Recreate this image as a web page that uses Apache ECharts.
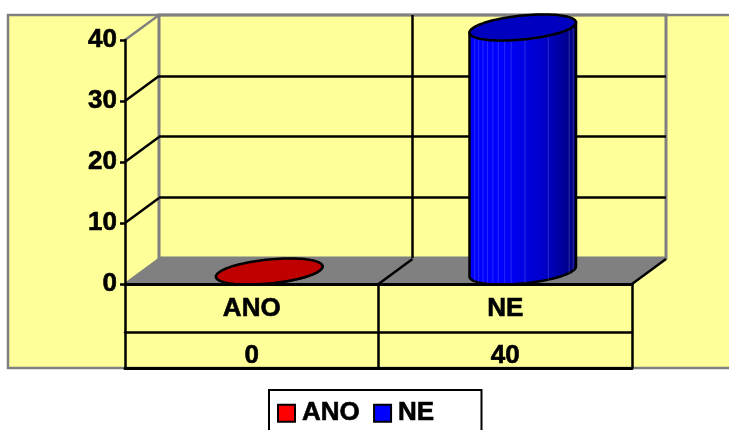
<!DOCTYPE html>
<html>
<head>
<meta charset="utf-8">
<style>html,body{margin:0;padding:0;background:#fff}#chart{width:729px;height:430px}</style>
<script src="https://cdn.jsdelivr.net/npm/echarts@6/dist/echarts.min.js"></script>
</head>
<body>
<div id="chart"></div>
<script>
// Answers per option
const categories = ['ANO', 'NE'];
const counts = [0, 40];
const wallTicks = [0, 10, 20, 30, 40];

const DEPTH_X = 34, DEPTH_Y = 25;
const FONT = 'Liberation Sans';
const TILT = 0.1, RX = 53.5, RY = 12;
const BAND_FACETS = [0.03, 0.07, 0.27, 0.49, 0.62, 0.68, 0.74, 0.79, 0.84, 0.88, 0.92, 0.955];

const label = {
  fontFamily: FONT, fontWeight: 'bold', fontSize: 26, color: '#000',
  textBorderColor: '#000', textBorderWidth: 0.6
};
const blackLine = { color: '#000', width: 2.5 };

// A point on a cylinder's tilted end ellipse, t measured from its right end
function ellipsePoint(cx, cy, t) {
  return [
    cx + RX * Math.cos(t) * Math.cos(TILT) + RY * Math.sin(t) * Math.sin(TILT),
    cy - RX * Math.cos(t) * Math.sin(TILT) + RY * Math.sin(t) * Math.cos(TILT)
  ];
}

function cylinderItem(base, top) {
  return function (params, api) {
    const v = api.coord([api.value(0), api.value(1)]);
    const z = api.coord([api.value(0), 0]);
    const cx = v[0] + DEPTH_X / 2 + 0.5;
    const topY = v[1] - DEPTH_Y / 2;
    const botY = z[1] - DEPTH_Y / 2;
    const t0 = Math.atan2(RY * Math.sin(TILT), RX * Math.cos(TILT));
    const outline = [], lid = [];
    for (let i = 0; i <= 48; i++) {
      outline.push(ellipsePoint(cx, botY, t0 + Math.PI * i / 48));
    }
    for (let i = 0; i < 96; i++) {
      lid.push(ellipsePoint(cx, topY, t0 + Math.PI * i / 48));
    }
    const body = [ellipsePoint(cx, topY, t0)].concat(outline, [ellipsePoint(cx, topY, t0 + Math.PI)]);
    const children = [{
      type: 'polygon',
      shape: { points: body },
      style: {
        fill: new echarts.graphic.LinearGradient(0, 0, 1, 0, [
          { offset: 0, color: base[0] },
          { offset: 0.3, color: base[0] },
          { offset: 0.7, color: base[1] },
          { offset: 1, color: base[2] }
        ]),
        stroke: '#000', lineWidth: 2.5
      }
    }];
    if (api.value(1) > 0) {
      BAND_FACETS.forEach(function (f) {
        const t = Math.acos(1 - 2 * f);
        const a = ellipsePoint(cx, topY, t), b = ellipsePoint(cx, botY, t);
        children.push({
          type: 'line',
          shape: { x1: a[0], y1: a[1], x2: b[0], y2: b[1] },
          style: { stroke: 'rgba(150,150,255,0.28)', lineWidth: 1 }
        });
      });
    }
    children.push({
      type: 'polygon',
      shape: { points: lid },
      style: { fill: top, stroke: '#000', lineWidth: 2.5 }
    });
    return { type: 'group', children: children };
  };
}

function floorItem(params) {
  const r = params.coordSys;
  const y = r.y + r.height, x0 = r.x, x1 = r.x + r.width;
  const children = [{
    type: 'polygon',
    shape: { points: [[x0, y], [x1, y], [x1 + DEPTH_X, y - DEPTH_Y], [x0 + DEPTH_X, y - DEPTH_Y]] },
    style: { fill: '#808080' }
  }];
  [x0 + r.width / 2, x1].forEach(function (x) {
    children.push({
      type: 'line',
      shape: { x1: x, y1: y, x2: x + DEPTH_X, y2: y - DEPTH_Y },
      style: { stroke: '#000', lineWidth: 2.5 }
    });
  });
  return { type: 'group', children: children };
}

function sideWallItem(params, api) {
  const x = params.coordSys.x;
  const tick = api.value(0);
  const y = api.coord([0, tick])[1];
  const edge = tick === 0 || tick === 40;
  return {
    type: 'line',
    shape: { x1: x, y1: y, x2: x + DEPTH_X, y2: y - DEPTH_Y },
    style: { stroke: edge ? '#808080' : '#000', lineWidth: 2.5 }
  };
}

const chart = echarts.init(document.getElementById('chart'));
chart.setOption({
  animation: false,
  backgroundColor: '#fff',
  graphic: [{
    type: 'rect', z: -1, silent: true,
    shape: { x: 8, y: 15, width: 740, height: 353 },
    style: { fill: '#FFFF99', stroke: '#808080', lineWidth: 2.5 }
  }],
  legend: {
    left: 269, top: 390,
    padding: [10, 47, 8, 8],
    itemWidth: 17, itemHeight: 17, itemGap: 13,
    backgroundColor: '#fff', borderColor: '#000', borderWidth: 2, borderRadius: 0,
    icon: 'rect',
    itemStyle: { borderColor: '#000', borderWidth: 2 },
    textStyle: Object.assign({}, label, { padding: [2, 0, 0, 2] }),
    data: categories
  },
  grid: [
    { left: 125, top: 40, width: 507, height: 244 },
    { left: 159, top: 15, width: 507, height: 243, show: true, borderColor: '#808080', borderWidth: 3 }
  ],
  xAxis: [
    {
      gridIndex: 0, type: 'category', data: categories, z: 3,
      axisLine: { lineStyle: { color: '#000', width: 3 } },
      axisTick: { show: true, length: 84, lineStyle: blackLine },
      axisLabel: Object.assign({ margin: 12 }, label)
    },
    {
      gridIndex: 0, type: 'category', data: counts.map(String), position: 'bottom', offset: 48, z: 3,
      axisLine: { lineStyle: blackLine },
      axisTick: { show: false },
      axisLabel: Object.assign({ margin: 11 }, label)
    },
    {
      gridIndex: 0, type: 'category', data: categories, position: 'bottom', offset: 84, z: 3,
      axisLine: { lineStyle: { color: '#000', width: 3 } },
      axisTick: { show: false },
      axisLabel: { show: false }
    },
    {
      gridIndex: 1, type: 'category', data: categories,
      axisLine: { show: false }, axisTick: { show: false }, axisLabel: { show: false },
      splitLine: { show: true, showMinLine: false, showMaxLine: false, lineStyle: blackLine }
    }
  ],
  yAxis: [
    {
      gridIndex: 0, type: 'value', min: 0, max: 40, interval: 10, z: 3,
      axisLine: { show: true, lineStyle: blackLine },
      axisTick: { show: true, length: 5, lineStyle: blackLine },
      axisLabel: Object.assign({ margin: 8, padding: [4, 0, 0, 0] }, label),
      splitLine: { show: false }
    },
    {
      gridIndex: 1, type: 'value', min: 0, max: 40, interval: 10,
      axisLine: { show: false }, axisTick: { show: false }, axisLabel: { show: false },
      splitLine: { show: true, showMinLine: false, showMaxLine: false, lineStyle: blackLine }
    }
  ],
  series: [
    { type: 'custom', silent: true, z: 1, clip: false, xAxisIndex: 0, yAxisIndex: 0,
      renderItem: floorItem, data: [[0, 0]] },
    { type: 'custom', silent: true, z: 1, clip: false, xAxisIndex: 0, yAxisIndex: 0,
      renderItem: sideWallItem, encode: { x: 0, y: 0 }, data: wallTicks.map(function (t) { return [t]; }) },
    { type: 'custom', name: categories[0], z: 2, clip: false, xAxisIndex: 0, yAxisIndex: 0,
      itemStyle: { color: '#FF0000' },
      renderItem: cylinderItem(['#FF0000', '#C00000', '#800000'], '#C00000'),
      encode: { x: 0, y: 1 }, data: [[0, counts[0]]] },
    { type: 'custom', name: categories[1], z: 2, clip: false, xAxisIndex: 0, yAxisIndex: 0,
      itemStyle: { color: '#0000FF' },
      renderItem: cylinderItem(['#0000FF', '#0000C8', '#000078'], '#0000C0'),
      encode: { x: 0, y: 1 }, data: [[1, counts[1]]] }
  ]
});
</script>
</body>
</html>
